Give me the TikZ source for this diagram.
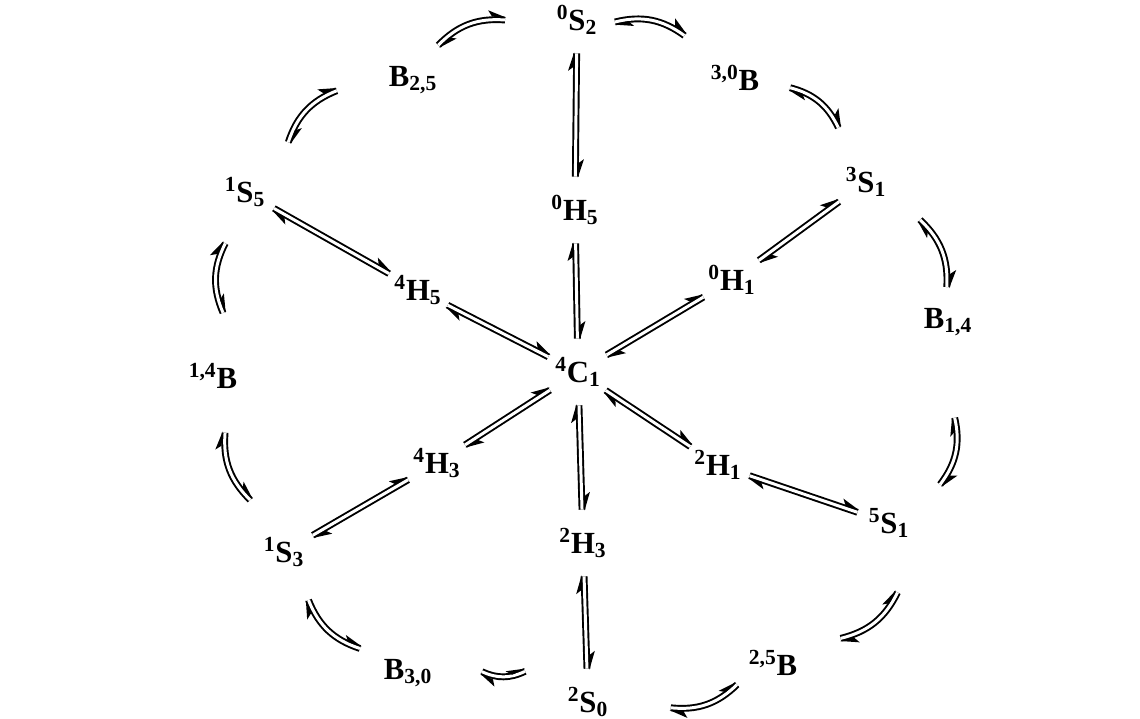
\documentclass[tikz,border=0pt]{standalone}
\usepackage{fontspec}
\setmainfont{Liberation Serif}
\usetikzlibrary{decorations.markings, calc}
\newcommand{\conf}[3]{\textsuperscript{#1}#2\textsubscript{#3}}

\begin{document}
\begin{tikzpicture}[x=0.02cm, y=-0.02cm,
    conf/.style={circle, minimum size=1.32cm, inner sep=0pt, font=\fontsize{17.5}{20}\selectfont\bfseries},
    eqm/.style={double, double distance=1.7pt, line width=1.1pt, postaction={decorate},
      decoration={markings,
        mark=at position 0 with {\fill (-0.6pt,-1.4pt) -- (10pt,-4.8pt) -- (7.5pt,-1.4pt) -- cycle;},
        mark=at position 1 with {\fill (0.6pt,1.4pt) -- (-10pt,4.8pt) -- (-7.5pt,1.4pt) -- cycle;}}},
  ]
    \useasboundingbox (0,0) rectangle (1140,719);

    % Chair at the centre
    \node[conf] (C41) at (578,372) {\conf{4}{C}{1}};

    % Half-chairs
    \node[conf] (H05) at (575,210) {\conf{0}{H}{5}};
    \node[conf] (H01) at (732,280) {\conf{0}{H}{1}};
    \node[conf] (H21) at (718,465) {\conf{2}{H}{1}};
    \node[conf] (H23) at (583,543) {\conf{2}{H}{3}};
    \node[conf] (H43) at (437,463) {\conf{4}{H}{3}};
    \node[conf] (H45) at (418,290) {\conf{4}{H}{5}};

    % Boats and skew-boats on the ring
    \node[conf] (S02)   at (577,20)  {\conf{0}{S}{2}};
    \node[conf] (B30up) at (735,78)  {\textsuperscript{3,0}B};
    \node[conf] (S31)   at (866,182) {\conf{3}{S}{1}};
    \node[conf] (B14)   at (948,322) {B\textsubscript{1,4}};
    \node[conf] (S51)   at (889,523) {\conf{5}{S}{1}};
    \node[conf] (B25up) at (773,663) {\textsuperscript{2,5}B};
    \node[conf] (S20)   at (588,702) {\conf{2}{S}{0}};
    \node[conf] (B30)   at (408,673) {B\textsubscript{3,0}};
    \node[conf] (S13)   at (284,552) {\conf{1}{S}{3}};
    \node[conf] (B14up) at (213,376) {\textsuperscript{1,4}B};
    \node[conf] (S15)   at (245,192) {\conf{1}{S}{5}};
    \node[conf] (B25)   at (413,80)  {B\textsubscript{2,5}};

    % Spokes
    \draw[eqm] (S02) -- (H05);
    \draw[eqm] (H05) -- (C41);
    \draw[eqm] (C41) -- (H23);
    \draw[eqm] (H23) -- (S20);
    \draw[eqm] (C41) -- (H01);
    \draw[eqm] (H01) -- (S31);
    \draw[eqm] (C41) -- (H21);
    \draw[eqm] (H21) -- (S51);
    \draw[eqm] (C41) -- (H43);
    \draw[eqm] (H43) -- (S13);
    \draw[eqm] (C41) -- (H45);
    \draw[eqm] (H45) -- (S15);

    % Ring
    \draw[eqm] ($(B25)+(-54:43)$)   to[bend left=25] ($(S02)+(180:72)$);
    \draw[eqm] ($(S02)+(3:38)$)     to[bend left=25] ($(B30up)+(-140:66)$);
    \draw[eqm] ($(B30up)+(10:56)$)  to[bend left=25] ($(S31)+(-117:61)$);
    \draw[eqm] ($(S31)+(35:66)$)    to[bend left=25] ($(B14)+(-92:35)$);
    \draw[eqm] ($(B14)+(86:96)$)    to[bend left=25] ($(S51)+(-37:64)$);
    \draw[eqm] ($(S51)+(83:70)$)    to[bend left=25] ($(B25up)+(-20:72)$);
    \draw[eqm] ($(B25up)+(149:42)$) to[bend left=25] ($(S20)+(4:83)$);
    \draw[eqm] ($(S20)+(206:70)$)   to[bend left=25] ($(B30)+(-1:74)$);
    \draw[eqm] ($(B30)+(207:54)$)   to[bend left=25] ($(S13)+(63:54)$);
    \draw[eqm] ($(S13)+(237:62)$)   to[bend left=25] ($(B14up)+(78:58)$);
    \draw[eqm] ($(B14up)+(-81:64)$) to[bend left=25] ($(S15)+(111:55)$);
    \draw[eqm] ($(S15)+(-49:66)$)   to[bend left=25] ($(B25)+(172:77)$);
  \end{tikzpicture}
\end{document}
